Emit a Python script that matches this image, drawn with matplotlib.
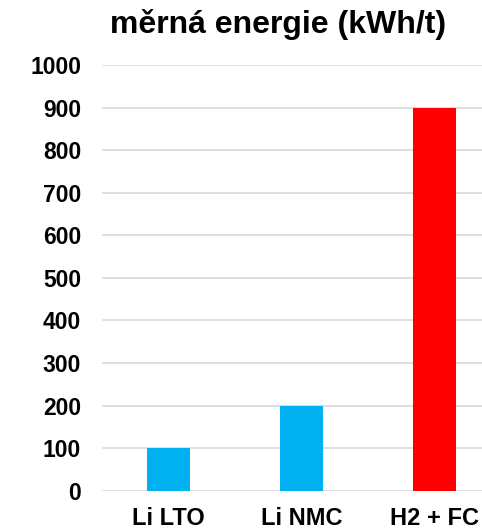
import matplotlib.pyplot as plt

categories = ['Li LTO', 'Li NMC', 'H2 + FC']
values = [100, 200, 900]
colors = ['#00b0f0', '#00b0f0', '#ff0000']
yticks = [0, 100, 200, 300, 400, 500, 600, 700, 800, 900, 1000]

plt.rcParams['font.family'] = ['Liberation Sans', 'DejaVu Sans']
plt.rcParams['font.weight'] = 'bold'

fig = plt.figure(figsize=(4.82, 5.29), dpi=100)
ax = fig.add_axes([0.2116, 0.0724, 0.828, 0.8048])

ax.bar(range(len(categories)), values, width=0.32, color=colors, zorder=3)

ax.set_xlim(-0.5, 2.5)
ax.set_ylim(0, 1000)
ax.set_yticks(yticks)
ax.set_xticks(range(len(categories)))
ax.set_xticklabels(categories)
ax.grid(axis='y', color='#d9d9d9', linewidth=1.2, zorder=0)
for s in ax.spines.values():
    s.set_visible(False)
ax.tick_params(length=0)
ax.tick_params(axis='y', labelsize=16.5, pad=15)
ax.tick_params(axis='x', labelsize=17, pad=11.5)
for lab in ax.get_xticklabels() + ax.get_yticklabels():
    lab.set_fontweight('bold')

fig.text(0.576, 0.9376, 'měrná energie (kWh/t)', ha='center', va='baseline',
         fontsize=23, fontweight='bold')

fig.savefig('out.png', dpi=100)
